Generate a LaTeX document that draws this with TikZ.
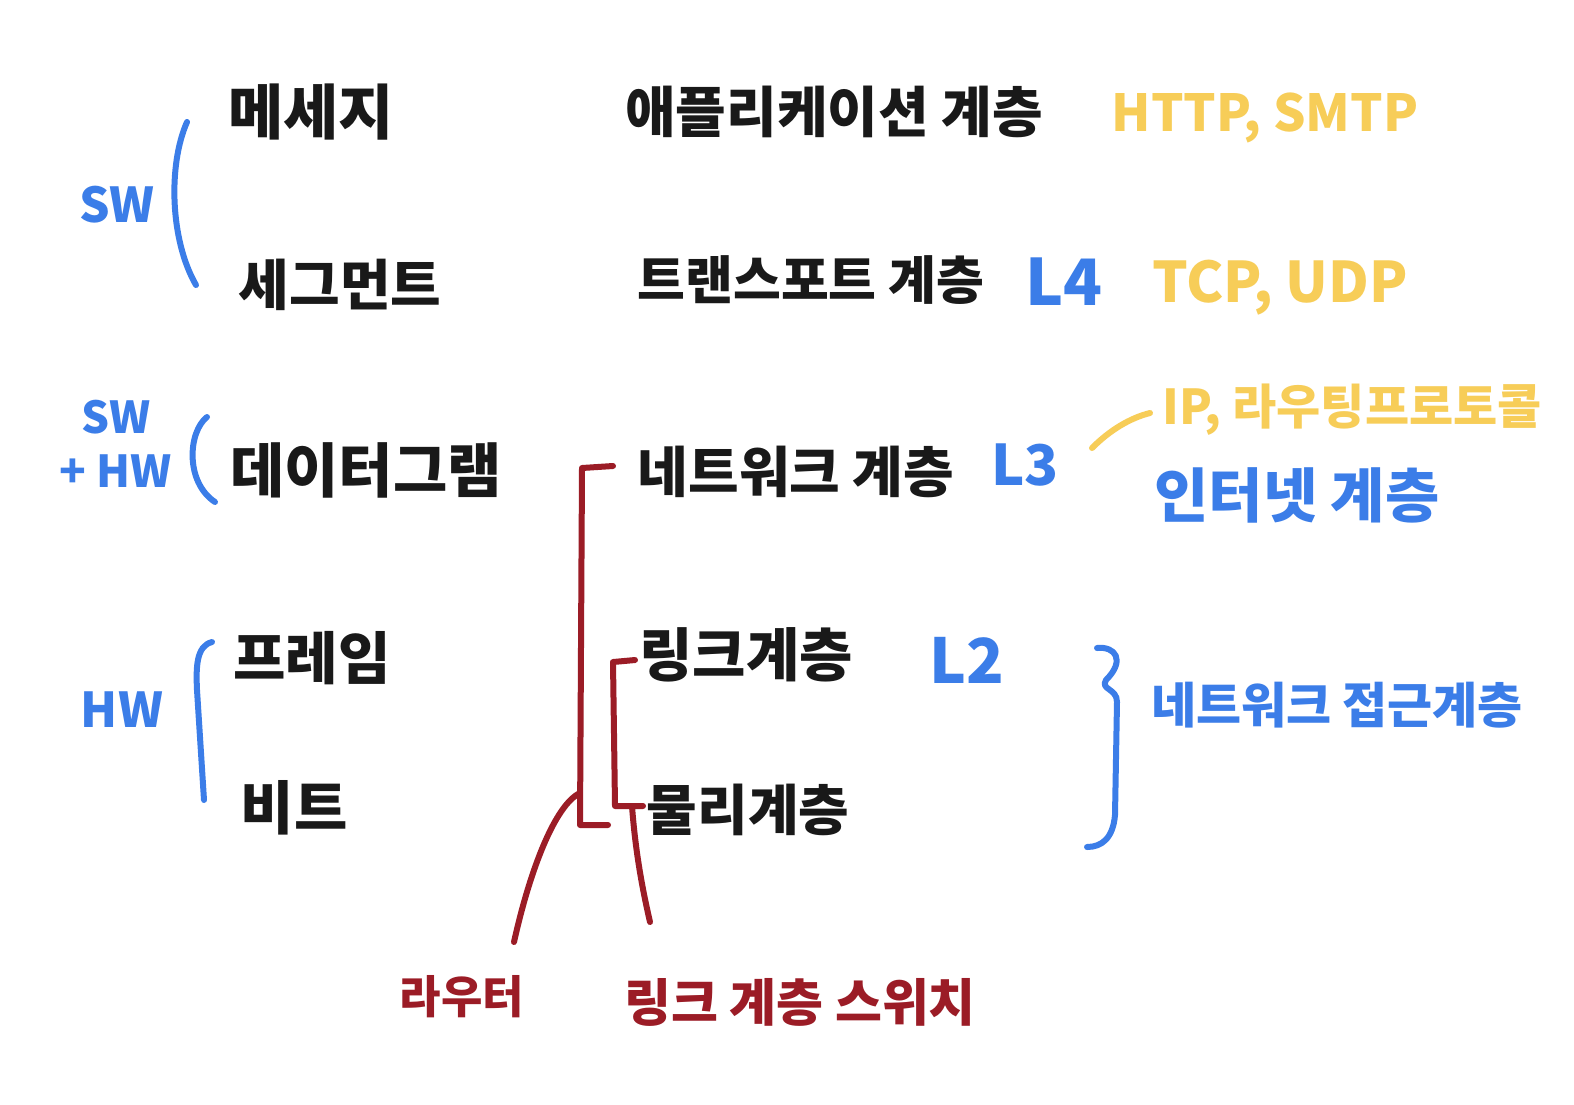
\documentclass[tikz,border=0pt]{standalone}
\usepackage{fontspec}
\setmainfont{Noto Sans CJK KR}
\definecolor{hblue}{RGB}{59,125,232}
\definecolor{hyellow}{RGB}{247,205,88}
\definecolor{hred}{RGB}{155,28,38}
\definecolor{hblack}{RGB}{25,25,25}
\tikzset{
  lbl/.style={inner sep=0pt, anchor=center, text=hblack},
  sz/.style={font=\fontsize{#1}{#1}\selectfont\bfseries},
  bluetxt/.style={lbl, text=hblue},
  yeltxt/.style={lbl, text=hyellow},
  redtxt/.style={lbl, text=hred},
  stroke/.style={line width=3pt, line cap=round, line join=round},
  bluestroke/.style={stroke, draw=hblue},
  redstroke/.style={stroke, draw=hred},
  yelstroke/.style={stroke, draw=hyellow},
}
\begin{document}
\begin{tikzpicture}[x=0.5pt,y=-0.5pt]
\useasboundingbox[fill=white] (0,0) rectangle (1574,1104);

% data units
\node[lbl,sz=30] (msg) at (311,112) {메세지};
\node[lbl,sz=27.5] (seg) at (340,285) {세그먼트};
\node[lbl,sz=29.5] (dgram) at (366,470) {데이터그램};
\node[lbl,sz=28.5] (frame) at (312,658) {프레임};
\node[lbl,sz=29] (bit) at (294,808) {비트};

% layers
\node[lbl,sz=27.5] (app) at (834,112) {애플리케이션 계층};
\node[lbl,sz=26] (trans) at (811,280) {트랜스포트 계층};
\node[lbl,sz=27.5] (net) at (796,472) {네트워크 계층};
\node[lbl,sz=29] (link) at (746,655) {링크계층};
\node[lbl,sz=27.5] (phys) at (748,810) {물리계층};

% devices
\node[redtxt,sz=22.5] (router) at (462,997) {라우터};
\node[redtxt,sz=25.5] (switch) at (800,1002) {링크 계층 스위치};

% protocols
\node[yeltxt,sz=25.5] (http) at (1265,118) {HTTP, SMTP};
\node[yeltxt,sz=28] (tcp) at (1280,288) {TCP, UDP};
\node[yeltxt,sz=24] (ip) at (1352,410) {IP, 라우팅프로토콜};

% L labels
\node[bluetxt,sz=32] (l4) at (1064,282) {L4};
\node[bluetxt,sz=28] (l3) at (1025,465) {L3};
\node[bluetxt,sz=31] (l2) at (967,660) {L2};

% SW/HW
\node[bluetxt,sz=24] (sw) at (117,205) {SW};
\node[bluetxt,sz=22,align=center] (swhw) at (116,444) {SW\\[5pt]+ HW};
\node[bluetxt,sz=24] (hw) at (122,710) {HW};

% TCP/IP layer names
\node[bluetxt,sz=29.5] (inet) at (1297,495) {인터넷 계층};
\node[bluetxt,sz=24.5] (nac) at (1337,705) {네트워크 접근계층};

% blue brackets
\draw[bluestroke] (187,122) .. controls (168,165) and (170,240) .. (196,285);
\draw[bluestroke] (207,417) .. controls (188,432) and (185,482) .. (215,502);
\draw[bluestroke] (212,642) .. controls (196,646) and (196,668) .. (197,690) -- (204,800);
\draw[bluestroke] (1097,648) .. controls (1115,646) and (1126,660) .. (1106,680)
  .. controls (1100,690) and (1117,688) .. (1117,702) -- (1115,815)
  .. controls (1113,838) and (1102,847) .. (1087,847);

% yellow connector
\coordinate (ys) at (1092,448);
\coordinate (ye) at (1150,413);
\draw[yelstroke] (ys) .. controls (1110,430) and (1130,418) .. (ye);

% red brackets
\draw[redstroke] (613,466) -- (582,468) -- (580,825) -- (608,825);
\draw[redstroke] (635,660) -- (613,662) -- (615,806) -- (643,806);

% red connectors
\coordinate (rj) at (580,793);
\coordinate (rt) at (514,942);
\coordinate (sj) at (632,806);
\coordinate (st) at (650,922);
\draw[redstroke] (rj) .. controls (555,805) and (530,870) .. (rt);
\draw[redstroke] (sj) .. controls (636,860) and (645,900) .. (st);
\end{tikzpicture}
\end{document}
